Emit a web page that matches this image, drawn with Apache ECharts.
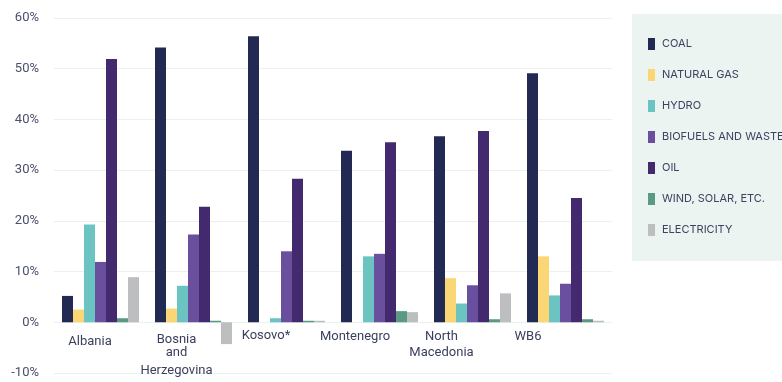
<!DOCTYPE html>
<html>
<head>
<meta charset="utf-8">
<script src="https://cdn.jsdelivr.net/npm/echarts@6/dist/echarts.min.js"></script>
<style>
  html, body { margin: 0; padding: 0; background: #fff; }
  #grid { width: 782px; height: 382px; }
</style>
</head>
<body>
<div id="grid"></div>
<script>
// categories and values (% share)
let countries = ['Albania', 'Bosnia\nand\nHerzegovina', 'Kosovo*', 'Montenegro', 'North\nMacedonia', 'WB6'];
let coal = [5.2, 54.2, 56.4, 33.8, 36.7, 49.1];
let naturalGas = [2.5, 2.7, 0, 0, 8.7, 13.0];
let hydro = [19.3, 7.2, 0.8, 13.0, 3.7, 5.3];
let biofuels = [11.9, 17.3, 14.0, 13.5, 7.3, 7.6];
let oil = [51.9, 22.8, 28.3, 35.5, 37.7, 24.5];
let windSolar = [0.8, 0.3, 0.3, 2.2, 0.6, 0.6];
let electricity = [8.9, -4.3, 0.3, 2.0, 5.7, 0.3];

let seriesNames = ['COAL', 'NATURAL GAS', 'HYDRO', 'BIOFUELS AND WASTE', 'OIL', 'WIND, SOLAR, ETC.', 'ELECTRICITY'];
let seriesData = [coal, naturalGas, hydro, biofuels, oil, windSolar, electricity];
let colors = ['#222a54', '#fbd674', '#6cc4c2', '#6a4f9e', '#432a6f', '#5a9a82', '#bdbec0'];

// label nudges (label text is not centred on its bar group in the original)
let labelShiftRight = [21, 34, 41, 49, 62, 75];
let labelShiftTop = [12, 9, 0, 2, 3, 2];

let rich = {};
countries.forEach(function (c, i) {
    rich['f' + i] = { padding: [labelShiftTop[i], labelShiftRight[i], 0, 0], lineHeight: 17 };
    rich['n' + i] = { padding: [0, labelShiftRight[i], 0, 0], lineHeight: 17.5 };
});

option = {
    animation: false,
    color: colors,
    textStyle: { fontFamily: 'Roboto' },
    grid: [{
        left: 54,
        right: 170,
        top: 18,
        bottom: 9,
        containLabel: false,
        outerBoundsMode: 'none'
    }, {
        // second grid only carries the category labels, its bottom sits on the 0% line
        left: 54,
        right: 170,
        top: 18,
        height: 304,
        containLabel: false,
        outerBoundsMode: 'none'
    }],
    legend: {
        orient: 'vertical',
        left: 632,
        top: 14,
        align: 'left',
        backgroundColor: '#ebf4f0',
        padding: [24, 60, 25, 16],
        itemGap: 19,
        itemWidth: 7,
        itemHeight: 12,
        icon: 'rect',
        textStyle: {
            color: '#3d4260',
            fontFamily: 'Inter',
            fontSize: 11,
            lineHeight: 12,
            padding: [0, 0, 0, 2]
        },
        data: seriesNames
    },
    xAxis: [{
        type: 'category',
        data: countries,
        axisLine: { show: false },
        axisTick: { show: false },
        axisLabel: { show: false }
    }, {
        type: 'category',
        gridIndex: 1,
        data: countries,
        axisLine: { show: false },
        axisTick: { show: false },
        axisLabel: {
            color: '#3a3f5c',
            fontSize: 13,
            margin: 5,
            interval: 0,
            lineHeight: 17,
            formatter: function (value, idx) {
                return value.split('\n').map(function (line, k) {
                    return '{' + (k === 0 ? 'f' : 'n') + idx + '|' + line + '}';
                }).join('\n');
            },
            rich: rich
        }
    }],
    yAxis: [{
        type: 'value',
        min: -10,
        max: 60,
        interval: 10,
        axisLine: { show: false },
        axisTick: { show: false },
        axisLabel: {
            formatter: '{value}%',
            color: '#4a4f6b',
            fontSize: 13,
            margin: 15
        },
        splitLine: {
            lineStyle: { color: '#eaf2ee', width: 1 }
        }
    }, {
        type: 'value',
        gridIndex: 1,
        show: false
    }],
    series: seriesNames.map(function (name, i) {
        return {
            name: name,
            type: 'bar',
            barWidth: 11,
            barGap: '0%',
            data: seriesData[i]
        };
    })
};

let myChart = echarts.init(document.getElementById('grid'));
myChart.setOption(option);
</script>
</body>
</html>
